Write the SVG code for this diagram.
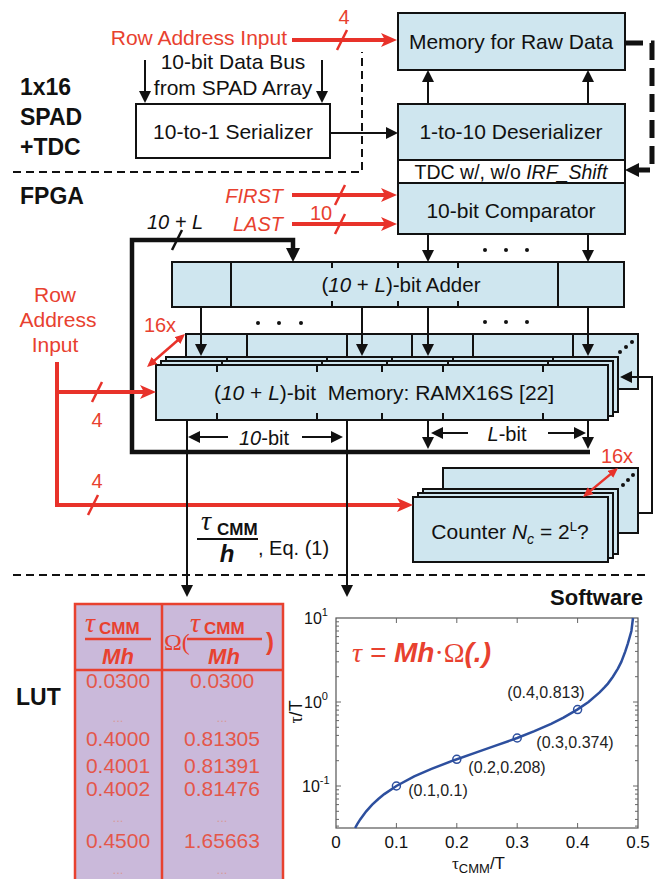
<svg xmlns="http://www.w3.org/2000/svg" width="662" height="879" viewBox="0 0 662 879">
<style>
text{font-family:"Liberation Sans",Arial,sans-serif;fill:#111}
.r{fill:#e8412f}
.b{font-weight:bold}
.i{font-style:italic}
.sf{font-family:"Liberation Serif","Times New Roman",serif}
.box{fill:#cfe6ef;stroke:#111;stroke-width:2}
.wbox{fill:#fff;stroke:#111;stroke-width:2}
.ln{stroke:#111;stroke-width:2;fill:none}
.thk{stroke:#111;stroke-width:4.5;fill:none}
.red{stroke:#e8322a;stroke-width:4;fill:none}
.sl{stroke:#e8322a;stroke-width:2.5}
.dash{stroke:#111;stroke-width:2;stroke-dasharray:8 5;fill:none}
.dot{fill:#111}
.lv{fill:#e4574a}
.ld{fill:#d79a9a;font-size:13px}
.tk{stroke:#666;stroke-width:1;fill:none}
.pl{font-size:16px;fill:#222}
</style>
<defs>
<marker id="ab" viewBox="0 0 12 12" refX="9" refY="6" markerWidth="12" markerHeight="12" markerUnits="userSpaceOnUse" orient="auto"><path d="M0,0L12,6L0,12z" fill="#111"/></marker>
<marker id="abk" viewBox="0 0 14 14" refX="9" refY="7" markerWidth="14" markerHeight="14" markerUnits="userSpaceOnUse" orient="auto"><path d="M0,0L14,7L0,14z" fill="#111"/></marker>
<marker id="ar" viewBox="0 0 16 14" refX="11" refY="7" markerWidth="16" markerHeight="14" markerUnits="userSpaceOnUse" orient="auto"><path d="M0,0L16,7L0,14L4,7z" fill="#e8322a"/></marker>
<marker id="ar2" viewBox="0 0 10 9" refX="7" refY="4.5" markerWidth="10" markerHeight="9" markerUnits="userSpaceOnUse" orient="auto-start-reverse"><path d="M0,0L10,4.5L0,9z" fill="#e8322a"/></marker>
</defs>
<rect width="662" height="879" fill="#fff"/>

<g id="section-labels">
<text x="20" y="95" class="b" font-size="23">1x16</text>
<text x="20" y="125" class="b" font-size="23">SPAD</text>
<text x="20" y="155" class="b" font-size="23">+TDC</text>
<text x="20" y="204" class="b" font-size="23">FPGA</text>
<text x="643" y="605" class="b" font-size="22" text-anchor="end">Software</text>
<text x="16" y="705" class="b" font-size="23">LUT</text>
<path class="dash" d="M13,172H362V52"/>
<path class="dash" d="M13,575H650"/>
</g>

<g id="labels">
<text x="287" y="45" class="r" font-size="21" text-anchor="end">Row Address Input</text>
<text x="344" y="24" class="r" font-size="20" text-anchor="middle">4</text>
<text x="233" y="69" font-size="21" text-anchor="middle">10-bit Data Bus</text>
<text x="233" y="95" font-size="21" text-anchor="middle">from SPAD Array</text>
<text x="283" y="203" class="r i" font-size="20" text-anchor="end">FIRST</text>
<text x="283" y="231" class="r i" font-size="20" text-anchor="end">LAST</text>
<text x="321" y="220" class="r" font-size="20" text-anchor="middle">10</text>
<text x="175" y="229" class="i" font-size="20" text-anchor="middle">10 + L</text>
<text x="55" y="302" class="r" font-size="21" text-anchor="middle">Row</text>
<text x="58" y="327" class="r" font-size="21" text-anchor="middle">Address</text>
<text x="55" y="352" class="r" font-size="21" text-anchor="middle">Input</text>
<text x="160" y="332" class="r" font-size="20" text-anchor="middle">16x</text>
<text x="97" y="427" class="r" font-size="20" text-anchor="middle">4</text>
<text x="97" y="488" class="r" font-size="20" text-anchor="middle">4</text>
<text x="617" y="463" class="r" font-size="20" text-anchor="middle">16x</text>
<text x="264" y="445" font-size="20" text-anchor="middle"><tspan class="i">10</tspan>-bit</text>
<text x="507" y="441" font-size="20" text-anchor="middle"><tspan class="i">L</tspan>-bit</text>
<text x="201" y="530" class="sf i" font-size="28">τ</text>
<text x="217" y="535" class="b" font-size="17">CMM</text>
<line x1="197" y1="539" x2="258" y2="539" stroke="#111" stroke-width="2"/>
<text x="227" y="562" class="b i" font-size="24" text-anchor="middle">h</text>
<text x="258" y="555" font-size="20">, Eq. (1)</text>
</g>

<g id="serializer">
<rect class="wbox" x="136" y="104" width="194" height="54"/>
<text x="233" y="139" font-size="21" text-anchor="middle">10-to-1 Serializer</text>
</g>

<g id="memRaw">
<rect class="box" x="398" y="13" width="227" height="57"/>
<text x="511" y="49" font-size="21" text-anchor="middle">Memory for Raw Data</text>
</g>

<g id="deser">
<rect class="box" x="398" y="104" width="227" height="56"/>
<text x="511" y="139" font-size="21" text-anchor="middle">1-to-10 Deserializer</text>
</g>

<g id="tdc">
<rect class="wbox" x="398" y="160" width="227" height="23"/>
<text x="511" y="179" font-size="19.5" text-anchor="middle">TDC w/, w/o <tspan class="i">IRF_Shift</tspan></text>
</g>

<g id="comparator">
<rect class="box" x="398" y="183" width="227" height="51"/>
<text x="511" y="218" font-size="21" text-anchor="middle">10-bit Comparator</text>
</g>

<g id="adder">
<rect class="box" x="172" y="262" width="452" height="45"/>
<path class="ln" d="M231,262V307M558,262V307M332,262V268M398,262V268M458,262V268M332,301V307M398,301V307M458,301V307"/>
<text x="401" y="292" font-size="20.5" text-anchor="middle">(<tspan class="i">10</tspan> + <tspan class="i">L</tspan>)-bit Adder</text>
</g>

<g id="memory">
<rect class="box" x="186" y="334" width="452" height="55"/>
<path class="ln" d="M247,334V357M347,334V357M412,334V357M473,334V357M573,334V357"/>
<rect class="box" x="166" y="357" width="452" height="55"/>
<path class="ln" d="M227,357V361M327,357V361M392,357V361M453,357V361M553,357V361"/>
<rect class="box" x="161" y="361" width="452" height="55"/>
<path class="ln" d="M222,361V365M322,361V365M387,361V365M448,361V365M548,361V365"/>
<rect class="box" x="156" y="365" width="452" height="55"/>
<path class="ln" d="M217,365V372M317,365V372M382,365V372M443,365V372M543,365V372M217,413V420M317,413V420M382,413V420M443,413V420M543,413V420"/>
<circle class="dot" cx="620" cy="352" r="2"/><circle class="dot" cx="626" cy="347" r="2"/><circle class="dot" cx="632" cy="342" r="2"/>
<text x="384" y="400" font-size="21" text-anchor="middle">(<tspan class="i">10</tspan> + <tspan class="i">L</tspan>)-bit&#160; Memory: RAMX16S [22]</text>
</g>

<g id="counter">
<rect class="box" x="443" y="468" width="195" height="65"/>
<rect class="box" x="423" y="489" width="195" height="65"/>
<rect class="box" x="418" y="493" width="195" height="65"/>
<rect class="box" x="413" y="497" width="195" height="65"/>
<circle class="dot" cx="623" cy="485" r="2"/><circle class="dot" cx="628" cy="480" r="2"/><circle class="dot" cx="633" cy="475" r="2"/>
<text x="510" y="539" font-size="21" text-anchor="middle">Counter <tspan class="i">N</tspan><tspan class="i" font-size="14" dy="5">c</tspan><tspan dy="-5"> = 2</tspan><tspan font-size="13" dy="-8">L</tspan><tspan dy="8">?</tspan></text>
</g>

<g id="connectors">
<line class="ln" x1="145" y1="60" x2="145" y2="100" marker-end="url(#ab)"/>
<line class="ln" x1="322" y1="60" x2="322" y2="100" marker-end="url(#ab)"/>
<line class="ln" x1="330" y1="133" x2="395" y2="133" marker-end="url(#ab)"/>
<line class="ln" x1="428" y1="104" x2="428" y2="73" marker-end="url(#ab)"/>
<line class="ln" x1="588" y1="104" x2="588" y2="73" marker-end="url(#ab)"/>
<path d="M625,43H652V170H630" fill="none" stroke="#111" stroke-width="5" stroke-dasharray="18 8" marker-end="url(#abk)"/>
<line class="ln" x1="428" y1="234" x2="428" y2="259" marker-end="url(#ab)"/>
<line class="ln" x1="588" y1="234" x2="588" y2="259" marker-end="url(#ab)"/>
<circle class="dot" cx="485" cy="250" r="2"/><circle class="dot" cx="506" cy="250" r="2"/><circle class="dot" cx="527" cy="250" r="2"/>
<path class="thk" d="M590,452H132V240H293V257" marker-end="url(#abk)"/>
<line x1="172" y1="250" x2="182" y2="230" stroke="#111" stroke-width="2.5"/>
<line class="ln" x1="201" y1="307" x2="201" y2="353" marker-end="url(#ab)"/>
<line class="ln" x1="362" y1="307" x2="362" y2="353" marker-end="url(#ab)"/>
<line class="ln" x1="428" y1="307" x2="428" y2="353" marker-end="url(#ab)"/>
<line class="ln" x1="588" y1="307" x2="588" y2="353" marker-end="url(#ab)"/>
<circle class="dot" cx="258" cy="323" r="2"/><circle class="dot" cx="279" cy="323" r="2"/><circle class="dot" cx="301" cy="323" r="2"/>
<circle class="dot" cx="485" cy="322" r="2"/><circle class="dot" cx="506" cy="322" r="2"/><circle class="dot" cx="527" cy="322" r="2"/>
<line class="ln" x1="428" y1="420" x2="428" y2="446" marker-end="url(#ab)"/>
<line class="ln" x1="588" y1="420" x2="588" y2="446" marker-end="url(#ab)"/>
<line class="ln" x1="228" y1="437" x2="191" y2="437" marker-end="url(#ab)"/>
<line class="ln" x1="302" y1="437" x2="340" y2="437" marker-end="url(#ab)"/>
<line class="ln" x1="468" y1="433" x2="434" y2="433" marker-end="url(#ab)"/>
<line class="ln" x1="548" y1="433" x2="583" y2="433" marker-end="url(#ab)"/>
<path class="ln" d="M638,513H652V377H623" marker-end="url(#ab)"/>
<line class="red" x1="292" y1="40" x2="392" y2="40" marker-end="url(#ar)"/>
<line class="sl" x1="337" y1="50" x2="347" y2="30"/>
<line class="red" x1="292" y1="195" x2="392" y2="195" marker-end="url(#ar)"/>
<line class="sl" x1="335" y1="205" x2="345" y2="185"/>
<line class="red" x1="292" y1="224" x2="392" y2="224" marker-end="url(#ar)"/>
<line class="sl" x1="335" y1="234" x2="345" y2="214"/>
<path class="red" d="M57,362V505H408" marker-end="url(#ar)"/>
<line class="red" x1="57" y1="392" x2="151" y2="392" marker-end="url(#ar)"/>
<line class="sl" x1="92" y1="402" x2="102" y2="382"/>
<line class="sl" x1="88" y1="515" x2="98" y2="495"/>
<line x1="149.3" y1="365" x2="182.7" y2="336" stroke="#e8322a" stroke-width="2.5" marker-start="url(#ar2)" marker-end="url(#ar2)"/>
<line x1="585.3" y1="495.1" x2="615.7" y2="469.9" stroke="#e8322a" stroke-width="2.5" marker-start="url(#ar2)" marker-end="url(#ar2)"/>
<line class="ln" x1="187" y1="420" x2="187" y2="594" marker-end="url(#ab)"/>
<line class="ln" x1="347" y1="420" x2="347" y2="594" marker-end="url(#ab)"/>
</g>

<g id="lut">
<rect x="75" y="604" width="208" height="290" fill="#cab9da" stroke="#e8412f" stroke-width="2.5"/>
<path d="M162,604V879M75,670H283" stroke="#e8412f" stroke-width="2.5"/>
<text x="85" y="632" class="sf i r" font-size="28">τ</text>
<text x="99" y="634" class="b r" font-size="17">CMM</text>
<line x1="85" y1="639" x2="151" y2="639" stroke="#e8412f" stroke-width="2.5"/>
<text x="118" y="664" class="b i r" font-size="22" text-anchor="middle">Mh</text>
<text x="164" y="650" class="sf r" font-size="24">Ω(</text>
<text x="190" y="632" class="sf i r" font-size="28">τ</text>
<text x="204" y="634" class="b r" font-size="17">CMM</text>
<line x1="187" y1="639" x2="262" y2="639" stroke="#e8412f" stroke-width="2.5"/>
<text x="224" y="664" class="b i r" font-size="22" text-anchor="middle">Mh</text>
<text x="266" y="650" class="b r" font-size="24">)</text>
<g font-size="21" text-anchor="middle">
<text x="118" y="688" class="lv">0.0300</text><text x="222" y="688" class="lv">0.0300</text>
<text x="118" y="722" class="ld">...</text><text x="222" y="722" class="ld">...</text>
<text x="118" y="746" class="lv">0.4000</text><text x="222" y="746" class="lv">0.81305</text>
<text x="118" y="773" class="lv">0.4001</text><text x="222" y="773" class="lv">0.81391</text>
<text x="118" y="796" class="lv">0.4002</text><text x="222" y="796" class="lv">0.81476</text>
<text x="118" y="822" class="ld">...</text><text x="222" y="822" class="ld">...</text>
<text x="118" y="848" class="lv">0.4500</text><text x="222" y="848" class="lv">1.65663</text>
<text x="118" y="874" class="ld">...</text><text x="222" y="874" class="ld">...</text>
</g>
</g>

<g id="plot">
<rect x="336" y="618" width="302" height="210" fill="#fff" stroke="#555" stroke-width="1.2"/>
<path class="tk" d="M396.4,828v-5M456.8,828v-5M517.2,828v-5M577.6,828v-5M396.4,618v5M456.8,618v5M517.2,618v5M577.6,618v5
M336,702h5M336,786h5M638,702h-5M638,786h-5
M336,676.7h3M336,661.9h3M336,651.4h3M336,643.3h3M336,636.6h3M336,631h3M336,626.1h3M336,621.8h3
M336,760.7h3M336,745.9h3M336,735.4h3M336,727.3h3M336,720.6h3M336,715h3M336,710.1h3M336,705.8h3
M336,826.1h3M336,819.4h3M336,811.3h3M336,804.6h3M336,799h3M336,794.1h3M336,789.8h3
M638,676.7h-3M638,661.9h-3M638,651.4h-3M638,643.3h-3M638,636.6h-3M638,631h-3M638,626.1h-3M638,621.8h-3
M638,760.7h-3M638,745.9h-3M638,735.4h-3M638,727.3h-3M638,720.6h-3M638,715h-3M638,710.1h-3M638,705.8h-3
M638,826.1h-3M638,819.4h-3M638,811.3h-3M638,804.6h-3M638,799h-3M638,794.1h-3M638,789.8h-3"/>
<polyline fill="none" stroke="#2d4f9e" stroke-width="2.5" points="355.1,828 357.1,824.3 360.2,819.4 366.2,811.3 372.2,804.6 378.3,799 384.3,794.1 396.4,786 414.2,776.4 431.5,768.9 452.7,760.7 475.7,752.6 494.9,745.9 517.2,738 534.4,731.1 551.1,723.8 563.5,717.7 577.6,709.4 588.5,702 599.6,692.4 604.7,687.2 607.9,683.6 612.9,676.7 617.9,668.6 621.3,661.9 625.3,651.4 627.9,643.3 631.4,631 633,618"/>
<g fill="none" stroke="#2d4f9e" stroke-width="1.5">
<circle cx="396.4" cy="786" r="4"/><circle cx="456.8" cy="759.3" r="4"/><circle cx="517.2" cy="738" r="4"/><circle cx="577.6" cy="709.6" r="4"/>
</g>
<text x="352" y="662" class="r i" font-size="28"><tspan class="sf">τ</tspan> = <tspan class="b">Mh</tspan><tspan class="sf" font-style="normal">·Ω</tspan><tspan class="b">(.)</tspan></text>
<text x="546" y="698" class="pl" text-anchor="middle">(0.4,0.813)</text>
<text x="575" y="748" class="pl" text-anchor="middle">(0.3,0.374)</text>
<text x="507" y="773" class="pl" text-anchor="middle">(0.2,0.208)</text>
<text x="438" y="796" class="pl" text-anchor="middle">(0.1,0.1)</text>
<g font-size="17" text-anchor="middle" fill="#222">
<text x="336" y="848">0</text><text x="396.4" y="848">0.1</text><text x="456.8" y="848">0.2</text><text x="517.2" y="848">0.3</text><text x="577.6" y="848">0.4</text><text x="638" y="848">0.5</text>
</g>
<text x="304" y="624" font-size="16">10<tspan font-size="11" dy="-8">1</tspan></text>
<text x="304" y="708" font-size="16">10<tspan font-size="11" dy="-8">0</tspan></text>
<text x="302" y="792" font-size="16">10<tspan font-size="11" dy="-8">-1</tspan></text>
<text transform="translate(302,712) rotate(-90)" font-size="18" text-anchor="middle"><tspan class="sf">τ</tspan>/T</text>
<text x="452" y="869" font-size="17"><tspan class="sf">τ</tspan><tspan font-size="13" dy="4">CMM</tspan><tspan dy="-4">/T</tspan></text>
</g>
</svg>
